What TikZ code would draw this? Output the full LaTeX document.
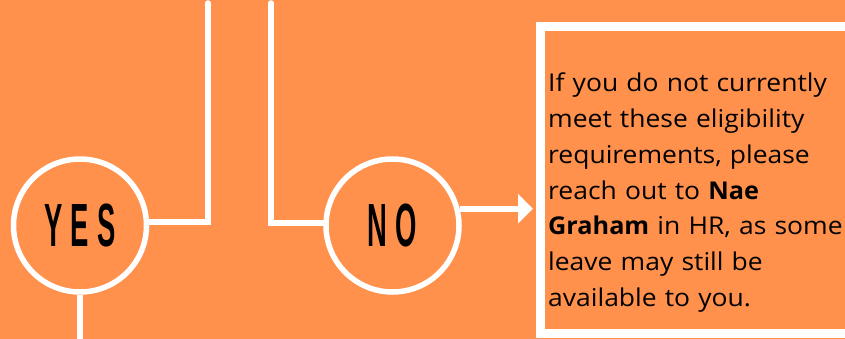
\documentclass[tikz,border=0pt]{standalone}
\usepackage{fontspec}
\usepackage{graphicx}
\usetikzlibrary{arrows.meta}
\setmainfont[FakeStretch=1.08, BoldFeatures={FakeStretch=1.03}]{Open Sans}
\newfontfamily\capfont{Liberation Sans}
\definecolor{bgorange}{HTML}{FF914D}
\tikzset{
  wline/.style={draw=white, line width=5.5pt, line cap=round},
  decision/.style={circle, draw=white, line width=5.5pt, minimum size=133pt, inner sep=0pt,
    font=\capfont\bfseries\fontsize{61}{61}\selectfont, text=black},
  infobox/.style={draw=white, fill=bgorange, line width=9pt},
  infotext/.style={anchor=north west, inner sep=0pt, text width=300pt, align=left,
    font=\fontsize{24.5}{35.7}\selectfont, text=black}
}
\begin{document}
\begin{tikzpicture}[x=1pt, y=-1pt]
\fill[bgorange] (0,0) rectangle (845,339);
\useasboundingbox (0,0) rectangle (845,339);
% info box
\path[infobox] (540.5,26.5) rectangle (849.5,333.5);
\coordinate (boxw) at (536,0);
\node[infotext] (txt) at (548,73) {If you do not currently\\
meet these eligibility\\
requirements, please\\
reach out to \textbf{Nae}\\
\textbf{Graham} in HR, as some\\
leave may still be\\
available to you.};
% decisions
\node[decision] (yes) at (80,225.5) {\scalebox{0.45}[1]{Y\hspace{18pt}E\hspace{18pt}S}};
\node[decision] (no) at (392.5,225.5) {\scalebox{0.45}[1]{N\hspace{18pt}O}};
% connectors
\coordinate (top1) at (208,3);
\coordinate (top2) at (271,3);
\coordinate (bot) at (80,345);
\draw[wline] (yes.east |- 0,222) -| (top1);
\draw[wline] (top2) |- (no.west |- 0,223);
\draw[wline, line cap=butt] (yes.south) -- (bot);
\draw[draw=white, line width=5.5pt, -{Triangle[length=15pt,width=29pt]}, shorten >=3pt]
  (no.14) -- (no.14 -| boxw);
\end{tikzpicture}
\end{document}
